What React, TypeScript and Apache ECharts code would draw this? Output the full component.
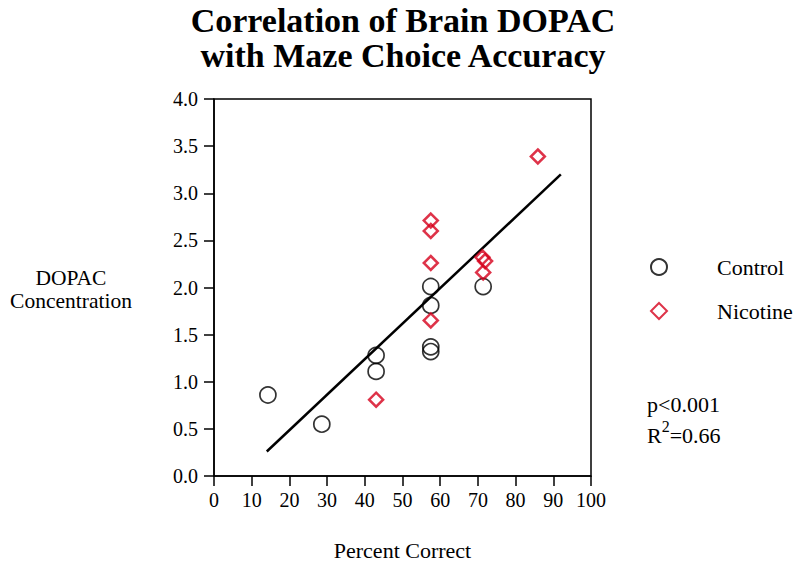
import React, { useEffect, useRef } from "react";
import * as echarts from "echarts";

const titleLines = ["Correlation of Brain DOPAC", "with Maze Choice Accuracy"];
const xTicks = [0, 10, 20, 30, 40, 50, 60, 70, 80, 90, 100];
const yTicks = [0, 0.5, 1, 1.5, 2, 2.5, 3, 3.5, 4];

const controlX = [14.3, 28.6, 43, 43, 57.5, 57.5, 57.5, 57.5, 71.4];
const controlY = [0.86, 0.55, 1.28, 1.11, 2.01, 1.81, 1.37, 1.32, 2.01];

const nicotineX = [85.9, 57.5, 57.5, 57.5, 57.5, 43, 71.2, 71.9, 71.4];
const nicotineY = [3.39, 2.71, 2.6, 2.26, 1.65, 0.81, 2.32, 2.28, 2.16];

const fitX = [14, 92];
const fitY = [0.26, 3.2];

const SERIF = "'Liberation Serif', 'Times New Roman', serif";
const RED = "#d6001c";

export default function App() {
  const ref = useRef<HTMLDivElement>(null);
  useEffect(() => {
    if (!ref.current) return;
    const chart = echarts.init(ref.current, null, { renderer: "svg" });
    chart.setOption({
      animation: false,
      backgroundColor: "#ffffff",
      textStyle: { fontFamily: SERIF },
      title: {
        text: titleLines.join("\n"),
        left: 403,
        textAlign: "center",
        top: 3,
        padding: 0,
        textStyle: {
          fontFamily: SERIF,
          fontWeight: "bold",
          fontSize: 34,
          lineHeight: 35,
          color: "#000",
        },
      },
      legend: {
        orient: "vertical",
        left: 645,
        top: 251,
        itemWidth: 16,
        itemHeight: 16,
        itemGap: 22,
        textStyle: {
          fontFamily: SERIF,
          fontSize: 22,
          color: "#000",
          padding: [0, 0, 0, 45],
        },
        data: ["Control", "Nicotine"],
      },
      grid: {
        left: 214,
        top: 99,
        width: 377,
        height: 377,
        outerBoundsMode: "none",
        containLabel: false,
        show: true,
        borderColor: "#000",
        borderWidth: 1.5,
        backgroundColor: "transparent",
      },
      xAxis: {
        type: "value",
        min: 0,
        max: 100,
        interval: 10,
        name: "Percent Correct",
        nameLocation: "middle",
        nameGap: 63,
        nameTextStyle: { fontFamily: SERIF, fontSize: 22, color: "#000", verticalAlign: "top" },
        axisLine: { show: true, onZero: false, lineStyle: { color: "#000", width: 1.5 } },
        axisTick: { show: true, length: 10, lineStyle: { color: "#000", width: 1.5 } },
        axisLabel: {
          fontFamily: SERIF,
          fontSize: 20,
          color: "#000",
          margin: 14,
          formatter: (v: number) => (xTicks.includes(v) ? String(v) : ""),
        },
        splitLine: { show: false },
      },
      yAxis: {
        type: "value",
        min: 0,
        max: 4,
        interval: 0.5,
        axisLine: { show: true, onZero: false, lineStyle: { color: "#000", width: 1.5 } },
        axisTick: { show: true, length: 10, lineStyle: { color: "#000", width: 1.5 } },
        axisLabel: {
          fontFamily: SERIF,
          fontSize: 20,
          color: "#000",
          margin: 16,
          formatter: (v: number) => (yTicks.includes(v) ? v.toFixed(1) : ""),
        },
        splitLine: { show: false },
      },
      graphic: [
        {
          type: "text",
          x: 71,
          y: 266,
          style: {
            text: "DOPAC\nConcentration",
            fontFamily: SERIF,
            fontSize: 21.5,
            lineHeight: 23,
            align: "center",
            verticalAlign: "top",
            fill: "#000",
          },
        },
        {
          type: "text",
          x: 647,
          y: 393,
          style: {
            text: "p<0.001",
            fontFamily: SERIF,
            fontSize: 22,
            verticalAlign: "top",
            fill: "#000",
          },
        },
        {
          type: "text",
          x: 647,
          y: 418,
          style: {
            text: "{n|R}{s|2}{n|=0.66}",
            fontFamily: SERIF,
            verticalAlign: "top",
            fill: "#000",
            rich: {
              n: { fontFamily: SERIF, fontSize: 22, fill: "#000", verticalAlign: "bottom", lineHeight: 28 },
              s: { fontFamily: SERIF, fontSize: 16, fill: "#000", verticalAlign: "top", lineHeight: 28 },
            },
          },
        },
      ],
      series: [
        {
          name: "Fit",
          type: "line",
          data: fitX.map((x, i) => [x, fitY[i]]),
          symbol: "none",
          lineStyle: { color: "#000", width: 2.5 },
          z: 1,
          silent: true,
        },
        {
          name: "Control",
          type: "scatter",
          data: controlX.map((x, i) => [x, controlY[i]]),
          symbol: "circle",
          symbolSize: 16,
          itemStyle: { color: "rgba(255,255,255,0)", borderColor: "#000", borderWidth: 1.7 },
          z: 3,
        },
        {
          name: "Nicotine",
          type: "scatter",
          data: nicotineX.map((x, i) => [x, nicotineY[i]]),
          symbol: "diamond",
          symbolSize: 14,
          itemStyle: { color: "rgba(255,255,255,0)", borderColor: RED, borderWidth: 2.5 },
          z: 3,
        },
      ],
    });
    return () => chart.dispose();
  }, []);
  return <div ref={ref} style={{ width: 800, height: 565, position: "absolute", left: 0, top: 0 }} />;
}
